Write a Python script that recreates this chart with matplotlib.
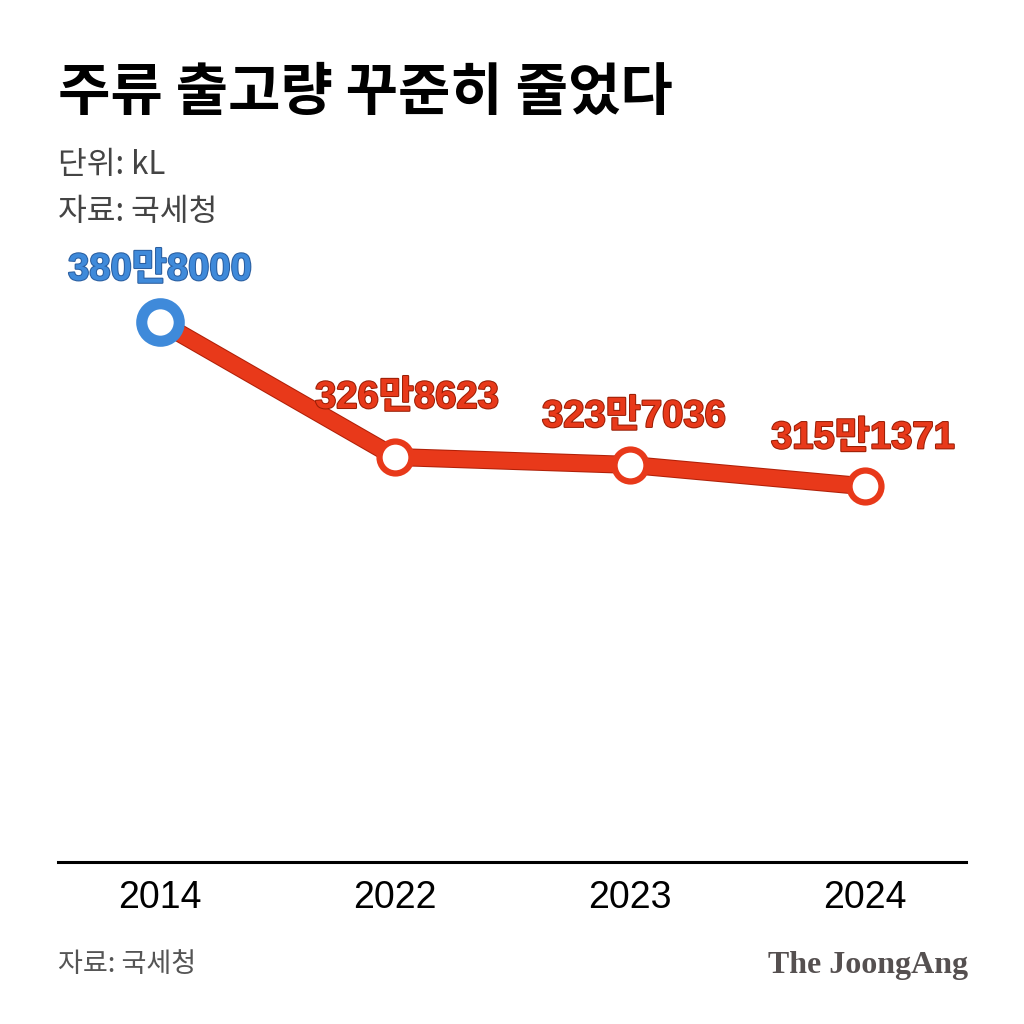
import matplotlib
matplotlib.use("Agg")
import matplotlib.pyplot as plt
import matplotlib.patheffects as pe

plt.rcParams['font.family'] = ['Noto Sans CJK KR', 'DejaVu Sans']

years = ["2014", "2022", "2023", "2024"]
values = [3808000, 3268623, 3237036, 3151371]
labels = ["380만8000", "326만8623", "323만7036", "315만1371"]

title = "주류 출고량 꾸준히 줄었다"
unit_text = "단위: kL"
source_text = "자료: 국세청"

RED = "#E8391A"
DARKRED = "#B02008"
BLUE = "#3F8ADA"

fig = plt.figure(figsize=(10.24, 10.24), dpi=100)
fig.patch.set_facecolor("white")
ax = fig.add_axes([58/1024, 162/1024, 908/1024, (862-250)/1024])

x = list(range(len(years)))
ax.plot(x, values, color=RED, lw=11.5, solid_capstyle="round", zorder=2,
        path_effects=[pe.Stroke(linewidth=13, foreground=DARKRED), pe.Normal()])
for i, v in enumerate(values):
    if i == 0:
        ax.plot(i, v, marker="o", ms=27, mfc="white", mec=BLUE, mew=8, zorder=3)
    else:
        ax.plot(i, v, marker="o", ms=23, mfc="white", mec=RED, mew=4.5, zorder=3)

offsets = [(0, 52), (12, 59), (4, 48), (-2, 48)]
num_font = ["Liberation Sans", "Noto Sans CJK KR"]
for i, (v, lab) in enumerate(zip(values, labels)):
    col = BLUE if i == 0 else RED
    dark = "#2a5ea0" if i == 0 else "#9a1e05"
    dx, dy = offsets[i]
    ax.annotate(lab, (i, v), xytext=(dx * 0.72, dy * 0.72), textcoords="offset points",
                ha="center", va="center", fontsize=27.5, fontweight="bold", color=col,
                family=num_font,
                path_effects=[pe.withStroke(linewidth=1.5, foreground=dark)], zorder=4)

ax.set_xlim(-0.434, 3.43)
ax.set_ylim(1650600, 4095600)
ax.set_xticks(x)
ax.set_xticklabels(years, fontsize=27, family=["Liberation Sans", "DejaVu Sans"])
ax.tick_params(axis="x", length=0, pad=13)
ax.set_yticks([])
for s in ["top", "left", "right"]:
    ax.spines[s].set_visible(False)
ax.spines["bottom"].set_linewidth(2.2)
ax.spines["bottom"].set_color("black")
ax.set_facecolor("none")

fig.text(58/1024, 1 - 93/1024, title, fontsize=41, fontweight="bold", va="center", ha="left", color="black")
fig.text(58/1024, 1 - 165/1024, unit_text, fontsize=22.5, va="center", ha="left", color="#444444")
fig.text(58/1024, 1 - 212/1024, source_text, fontsize=22.5, va="center", ha="left", color="#444444")
fig.text(58/1024, 1 - 965/1024, source_text, fontsize=19.5, va="center", ha="left", color="#555555")
fig.text(968/1024, 1 - 966/1024, "The JoongAng", fontsize=23, fontweight="bold", va="center", ha="right",
         color="#555050", family=["Liberation Serif", "DejaVu Serif"])

fig.savefig("out.png", dpi=100, facecolor="white")
